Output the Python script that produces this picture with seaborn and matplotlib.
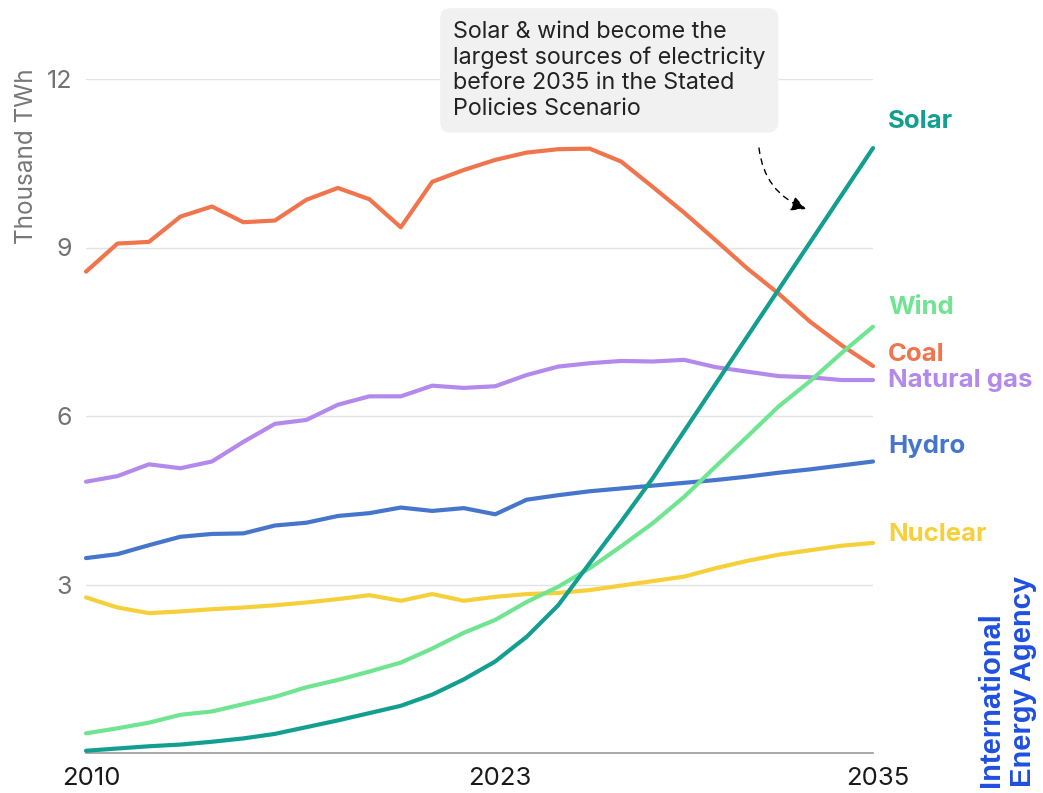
import numpy as np
import pandas as pd
import matplotlib
matplotlib.use("Agg")
import matplotlib.pyplot as plt
from matplotlib.transforms import ScaledTranslation
import seaborn as sns

years = list(range(2010, 2036))
coal = [8.57, 9.07, 9.10, 9.55, 9.73, 9.45, 9.48, 9.85, 10.06, 9.86, 9.36, 10.17, 10.38,
        10.56, 10.69, 10.75, 10.76, 10.53, 10.08, 9.62, 9.13, 8.63, 8.18, 7.68, 7.26, 6.89]
natural_gas = [4.83, 4.93, 5.14, 5.07, 5.19, 5.54, 5.86, 5.93, 6.20, 6.35, 6.35, 6.54, 6.50,
               6.53, 6.73, 6.88, 6.94, 6.98, 6.97, 7.00, 6.87, 6.79, 6.71, 6.69, 6.64, 6.64]
hydro = [3.47, 3.54, 3.70, 3.85, 3.90, 3.91, 4.05, 4.10, 4.22, 4.27, 4.37, 4.31, 4.36,
         4.25, 4.51, 4.59, 4.66, 4.71, 4.76, 4.81, 4.86, 4.92, 4.99, 5.05, 5.12, 5.19]
nuclear = [2.77, 2.59, 2.49, 2.52, 2.56, 2.59, 2.63, 2.68, 2.74, 2.81, 2.71, 2.83, 2.71,
           2.78, 2.83, 2.85, 2.90, 2.98, 3.06, 3.14, 3.29, 3.42, 3.53, 3.61, 3.69, 3.74]
wind = [0.35, 0.44, 0.54, 0.68, 0.74, 0.87, 1.00, 1.17, 1.30, 1.45, 1.61, 1.86, 2.14,
        2.37, 2.69, 2.96, 3.29, 3.68, 4.09, 4.56, 5.10, 5.63, 6.17, 6.62, 7.12, 7.59]
solar = [0.04, 0.08, 0.12, 0.15, 0.20, 0.26, 0.34, 0.46, 0.58, 0.71, 0.84, 1.04, 1.31,
         1.63, 2.07, 2.63, 3.38, 4.12, 4.89, 5.73, 6.57, 7.41, 8.25, 9.09, 9.93, 10.77]

sources = ["Coal", "Natural gas", "Hydro", "Nuclear", "Wind", "Solar"]
series = [coal, natural_gas, hydro, nuclear, wind, solar]
colors = {"Coal": "#f0744c", "Natural gas": "#b38aeb", "Hydro": "#4676cc",
          "Nuclear": "#f6d03a", "Wind": "#6fe592", "Solar": "#139f8f"}
# label offsets (points) relative to each series' last point
label_offsets = {"Coal": 8, "Natural gas": 0, "Hydro": 11, "Nuclear": 6, "Wind": 14, "Solar": 19}
xtick_years = [2010, 2023, 2035]
yticks = [3, 6, 9, 12]

df = pd.DataFrame({
    "year": np.tile(years, len(sources)),
    "source": np.repeat(sources, len(years)),
    "value": np.concatenate(series),
})

sns.set_theme(style="white")
plt.rcParams["font.family"] = ["Inter", "DejaVu Sans"]

fig = plt.figure(figsize=(10.43, 7.93), dpi=100)
ax = fig.add_axes([86 / 1043, 40 / 793, (873 - 86) / 1043, (753 - 79) / 793])

sns.lineplot(data=df, x="year", y="value", hue="source", hue_order=sources,
             palette=colors, linewidth=3, legend=False, ax=ax, zorder=3,
             solid_capstyle="round")
for ln in ax.lines:
    ln.set_clip_on(False)

ax.set_xlim(2010, 2035)
ax.set_ylim(0, 12)
ax.set_xlabel("")
ax.set_ylabel("")
ax.set_yticks(yticks)
ax.set_yticklabels([str(v) for v in yticks])
ax.set_xticks(xtick_years)
ax.set_xticklabels([str(v) for v in xtick_years])
ax.tick_params(axis="y", length=0, pad=10, labelsize=18, labelcolor="#727272")
ax.tick_params(axis="x", length=0, pad=10, labelsize=18.5, labelcolor="#1a1a1a")
shift = ScaledTranslation(5 / 100, 0, fig.dpi_scale_trans)
for lab in ax.get_xticklabels():
    lab.set_transform(lab.get_transform() + shift)
ax.grid(axis="y", color="#e3e3e3", linewidth=1)
ax.grid(axis="x", visible=False)
for s in ["top", "right", "left"]:
    ax.spines[s].set_visible(False)
ax.spines["bottom"].set_color("#9a9a9a")
ax.spines["bottom"].set_linewidth(1.2)
ax.spines["bottom"].set_zorder(2)

# Series labels at the right end
for name, vals in zip(sources, series):
    ax.annotate(name, xy=(years[-1], vals[-1]), xytext=(11, label_offsets[name]),
                textcoords="offset points", ha="left", va="center",
                fontsize=18.5, fontweight="bold", color=colors[name],
                annotation_clip=False)

# Y label
fig.text(27 / 1043, 1 - 156 / 793, "Thousand TWh", rotation=90, ha="center", va="center",
         fontsize=17.5, color="#777777")

# Callout box
fig.text(453 / 1043, 1 - 21 / 793,
         "Solar & wind become the\nlargest sources of electricity\nbefore 2035 in the Stated\nPolicies Scenario",
         ha="left", va="top", fontsize=16.8, color="#222222", linespacing=1.2,
         bbox=dict(boxstyle="round,pad=0.55,rounding_size=0.45", facecolor="#f1f1f1",
                   edgecolor="none"))

# Dashed curved arrow
ax.annotate("", xy=(806 / 1043, 1 - 209 / 793), xycoords="figure fraction",
            xytext=(759 / 1043, 1 - 148 / 793), textcoords="figure fraction",
            arrowprops=dict(arrowstyle="-|>", color="black", lw=1,
                            linestyle=(0, (4, 4)), connectionstyle="arc3,rad=0.3",
                            mutation_scale=22, shrinkA=0, shrinkB=0))

# IEA watermark
fig.text(977 / 1043, 6 / 793, "International\nEnergy Agency", rotation=90,
         ha="left", va="bottom", fontsize=21, fontweight="bold", color="#1f4fe0",
         family=["Liberation Sans", "DejaVu Sans"], linespacing=1.2,
         multialignment="left")

fig.savefig("out.png", dpi=100)
